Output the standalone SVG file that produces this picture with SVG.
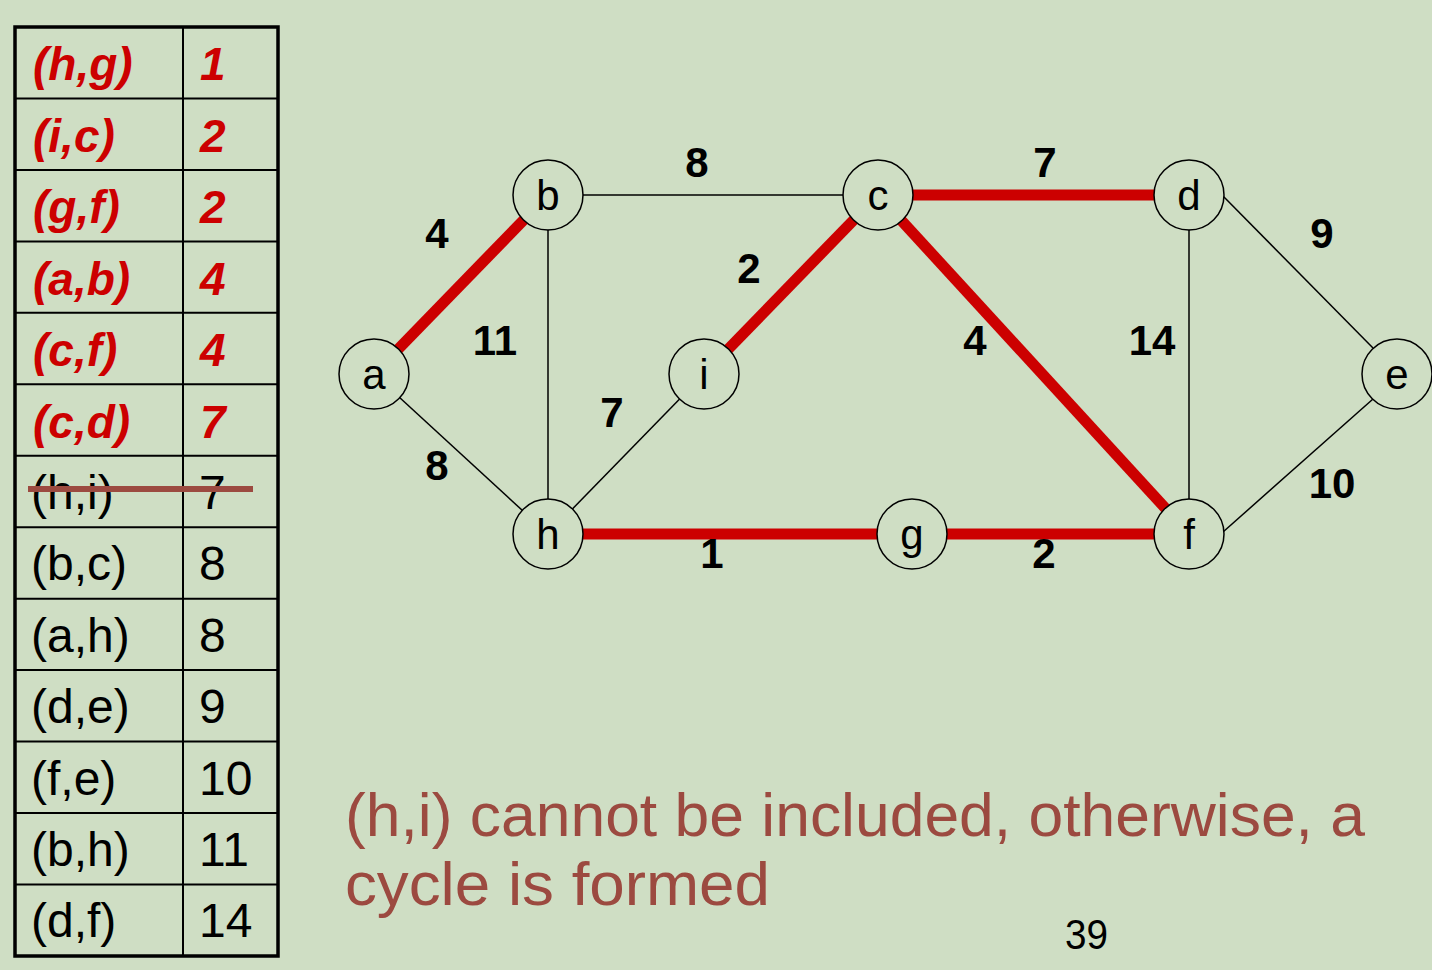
<svg xmlns="http://www.w3.org/2000/svg" width="1432" height="970" viewBox="0 0 1432 970">
<style>
.bg{fill:#CFDEC4}
.thin{stroke:#000;stroke-width:1.5;fill:none}
.red{stroke:#CC0000;stroke-width:11;fill:none}
.node circle{fill:#CFDEC4;stroke:#000;stroke-width:1.5}
.nl{font-family:"Liberation Sans",Arial,sans-serif;font-size:42px;fill:#000;text-anchor:middle}
.el{font-family:"Liberation Sans",Arial,sans-serif;font-size:42px;font-weight:bold;fill:#000;text-anchor:middle}
.tr{font-family:"Liberation Sans",Arial,sans-serif;font-size:46px;font-weight:bold;font-style:italic;fill:#CC0000}
.tb{font-family:"Liberation Sans",Arial,sans-serif;font-size:48px;fill:#000}
.grid{stroke:#000;stroke-width:2;fill:none}
.note{font-family:"Liberation Sans",Arial,sans-serif;font-size:62px;fill:#9C4A40}
</style>
<rect class="bg" x="0" y="0" width="1432" height="970"/>

<g id="table">
  <rect x="15" y="27" width="263" height="929" fill="none" stroke="#000" stroke-width="3.5"/>
  <line class="grid" x1="183" y1="27" x2="183" y2="956"/>
  <line class="grid" x1="15" y1="98.5" x2="278" y2="98.5"/>
  <line class="grid" x1="15" y1="169.9" x2="278" y2="169.9"/>
  <line class="grid" x1="15" y1="241.4" x2="278" y2="241.4"/>
  <line class="grid" x1="15" y1="312.8" x2="278" y2="312.8"/>
  <line class="grid" x1="15" y1="384.3" x2="278" y2="384.3"/>
  <line class="grid" x1="15" y1="455.8" x2="278" y2="455.8"/>
  <line class="grid" x1="15" y1="527.2" x2="278" y2="527.2"/>
  <line class="grid" x1="15" y1="598.7" x2="278" y2="598.7"/>
  <line class="grid" x1="15" y1="670.1" x2="278" y2="670.1"/>
  <line class="grid" x1="15" y1="741.6" x2="278" y2="741.6"/>
  <line class="grid" x1="15" y1="813.1" x2="278" y2="813.1"/>
  <line class="grid" x1="15" y1="884.5" x2="278" y2="884.5"/>

  <text class="tr" x="33" y="80">(h,g)</text><text class="tr" x="200" y="80">1</text>
  <text class="tr" x="33" y="152">(i,c)</text><text class="tr" x="200" y="152">2</text>
  <text class="tr" x="33" y="223">(g,f)</text><text class="tr" x="200" y="223">2</text>
  <text class="tr" x="33" y="295">(a,b)</text><text class="tr" x="200" y="295">4</text>
  <text class="tr" x="33" y="366">(c,f)</text><text class="tr" x="200" y="366">4</text>
  <text class="tr" x="33" y="438">(c,d)</text><text class="tr" x="200" y="438">7</text>

  <text class="tb" x="31" y="509">(h,i)</text><text class="tb" x="199" y="509">7</text>
  <line x1="28" y1="489" x2="253" y2="489" stroke="#9C4A40" stroke-width="6"/>
  <text class="tb" x="31" y="580">(b,c)</text><text class="tb" x="199" y="580">8</text>
  <text class="tb" x="31" y="652">(a,h)</text><text class="tb" x="199" y="652">8</text>
  <text class="tb" x="31" y="723">(d,e)</text><text class="tb" x="199" y="723">9</text>
  <text class="tb" x="31" y="795">(f,e)</text><text class="tb" x="199" y="795">10</text>
  <text class="tb" x="31" y="866">(b,h)</text><text class="tb" x="199" y="866">11</text>
  <text class="tb" x="31" y="937">(d,f)</text><text class="tb" x="199" y="937">14</text>
</g>

<g id="connectors">
  <line class="thin" x1="374" y1="374" x2="548" y2="534"/>
  <line class="thin" x1="548" y1="195" x2="548" y2="534"/>
  <line class="thin" x1="548" y1="534" x2="704" y2="374"/>
  <line class="thin" x1="548" y1="195" x2="878" y2="195"/>
  <line class="thin" x1="1189" y1="195" x2="1189" y2="534"/>
  <line class="thin" x1="1223" y1="196" x2="1373" y2="348"/>
  <line class="thin" x1="1223" y1="532" x2="1373" y2="399"/>
  <line class="red" x1="374" y1="374" x2="548" y2="195"/>
  <line class="red" x1="704" y1="374" x2="878" y2="195"/>
  <line class="red" x1="878" y1="195" x2="1189" y2="195"/>
  <line class="red" x1="878" y1="195" x2="1189" y2="534"/>
  <line class="red" x1="548" y1="534" x2="912" y2="534"/>
  <line class="red" x1="912" y1="534" x2="1189" y2="534"/>

  <text class="el" x="697" y="177">8</text>
  <text class="el" x="1045" y="177">7</text>
  <text class="el" x="437" y="248">4</text>
  <text class="el" x="749" y="283">2</text>
  <text class="el" x="1322" y="248">9</text>
  <text class="el" x="495" y="355">11</text>
  <text class="el" x="975" y="355">4</text>
  <text class="el" x="1152" y="355">14</text>
  <text class="el" x="612" y="427">7</text>
  <text class="el" x="437" y="480">8</text>
  <text class="el" x="1332" y="498">10</text>
  <text class="el" x="712" y="568">1</text>
  <text class="el" x="1044" y="568">2</text>
</g>

<g id="node-a" class="node"><circle cx="374" cy="374" r="35"/><text class="nl" x="374" y="389">a</text></g>
<g id="node-b" class="node"><circle cx="548" cy="195" r="35"/><text class="nl" x="548" y="210">b</text></g>
<g id="node-c" class="node"><circle cx="878" cy="195" r="35"/><text class="nl" x="878" y="210">c</text></g>
<g id="node-d" class="node"><circle cx="1189" cy="195" r="35"/><text class="nl" x="1189" y="210">d</text></g>
<g id="node-e" class="node"><circle cx="1397" cy="374" r="35"/><text class="nl" x="1397" y="389">e</text></g>
<g id="node-f" class="node"><circle cx="1189" cy="534" r="35"/><text class="nl" x="1189" y="549">f</text></g>
<g id="node-g" class="node"><circle cx="912" cy="534" r="35"/><text class="nl" x="912" y="549">g</text></g>
<g id="node-h" class="node"><circle cx="548" cy="534" r="35"/><text class="nl" x="548" y="549">h</text></g>
<g id="node-i" class="node"><circle cx="704" cy="374" r="35"/><text class="nl" x="704" y="389">i</text></g>

<g id="note">
  <text class="note" x="345" y="836" textLength="1020" lengthAdjust="spacingAndGlyphs">(h,i) cannot be included, otherwise, a</text>
  <text class="note" x="345" y="905" textLength="425" lengthAdjust="spacingAndGlyphs">cycle is formed</text>
</g>
<text x="1065" y="949" font-family="'Liberation Sans',Arial,sans-serif" font-size="42" fill="#000" textLength="43" lengthAdjust="spacingAndGlyphs">39</text>
</svg>
